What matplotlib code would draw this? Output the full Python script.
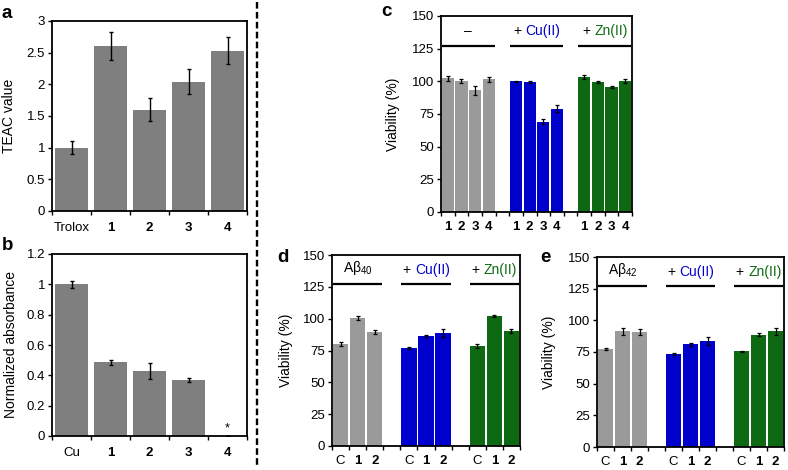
import numpy as np
import matplotlib.pyplot as plt
from matplotlib.lines import Line2D

plt.rcParams["font.family"] = ["Liberation Sans", "DejaVu Sans"]
plt.rcParams["font.size"] = 9
plt.rcParams["mathtext.fontset"] = "custom"
plt.rcParams["mathtext.rm"] = "Liberation Sans"
plt.rcParams["mathtext.it"] = "Liberation Sans:italic"

# panel a: TEAC values
teac_labels = ["Trolox", "1", "2", "3", "4"]
teac_vals = [1.0, 2.6, 1.6, 2.04, 2.53]
teac_err = [0.1, 0.22, 0.18, 0.2, 0.21]

# panel b: normalized absorbance
abs_labels = ["Cu", "1", "2", "3", "4"]
abs_vals = [1.0, 0.485, 0.43, 0.37, 0.0]
abs_err = [0.022, 0.015, 0.052, 0.013, 0.0]

# panel c: viability, compounds 1-4
c_labels = ["1", "2", "3", "4"]
c_none = [102.2, 100.2, 93.0, 101.5]
c_none_err = [1.8, 1.8, 3.2, 2.0]
c_cu = [100.0, 99.8, 69.0, 79.2]
c_cu_err = [0.5, 0.8, 2.0, 3.0]
c_zn = [103.5, 99.3, 95.8, 100.2]
c_zn_err = [1.5, 0.8, 1.0, 1.5]

# panel d: Abeta40
d_labels = ["C", "1", "2"]
d_ab = [80.0, 100.3, 89.8]
d_ab_err = [1.5, 1.5, 1.6]
d_cu = [77.0, 86.6, 88.5]
d_cu_err = [0.5, 0.8, 3.0]
d_zn = [78.5, 102.3, 90.3]
d_zn_err = [1.6, 0.6, 1.2]

# panel e: Abeta42
e_ab = [77.7, 91.3, 90.8]
e_ab_err = [0.8, 2.5, 2.5]
e_cu = [73.4, 81.0, 83.7]
e_cu_err = [0.5, 1.5, 3.5]
e_zn = [75.5, 88.5, 91.3]
e_zn_err = [0.5, 1.2, 3.0]

GRAY_DARK = "#7f7f7f"
GRAY = "#9a9a9a"
BLUE = "#0000cc"
GREEN = "#0e6a12"

W, H = 788, 470
fig = plt.figure(figsize=(W / 100, H / 100), dpi=100)


def add_axes(left, right, top, bottom):
    return fig.add_axes([left / W, 1 - bottom / H, (right - left) / W, (bottom - top) / H])


def style(ax, xpad):
    for s in ax.spines.values():
        s.set_linewidth(1.3)
    ax.tick_params(axis="y", direction="out", length=3, width=1, pad=2, labelsize=9.5)
    ax.tick_params(axis="x", which="minor", length=3, width=1)
    ax.tick_params(axis="x", which="major", length=0, pad=xpad)


def bold_labels(ax, labels):
    for t, lab in zip(ax.get_xticklabels(), labels):
        if lab.isdigit():
            t.set_fontweight("bold")


def simple_panel(ax, labels, vals, err, ylim, yticks, ylabel, labelpad):
    x = np.arange(len(labels))
    ax.bar(x, vals, width=0.85, color=GRAY_DARK)
    ax.errorbar(x, vals, yerr=err, fmt="none", ecolor="black", elinewidth=1, capsize=1.5, capthick=1)
    ax.set_xlim(-0.5, len(labels) - 0.5)
    ax.set_ylim(*ylim)
    ax.set_yticks(yticks)
    ax.set_yticklabels([f"{t:g}" for t in yticks])
    ax.set_xticks(x)
    ax.set_xticklabels(labels, fontsize=9.5)
    ax.set_xticks(np.arange(-0.5, len(labels)), minor=True)
    ax.set_ylabel(ylabel, fontsize=10, labelpad=labelpad)
    style(ax, 8)
    bold_labels(ax, labels)


def group_panel(ax, labels, groups, errs, first_label, labelpad):
    n = len(labels)
    colors = [GRAY, BLUE, GREEN]
    ticks, ticklabs = [], []
    for g, (vals, err, col) in enumerate(zip(groups, errs, colors)):
        x = np.arange(n) + g * (n + 1)
        ax.bar(x, vals, width=0.9, color=col)
        ax.errorbar(x, vals, yerr=err, fmt="none", ecolor="black", elinewidth=0.9, capsize=1.2, capthick=0.9)
        ticks += list(x)
        ticklabs += labels
        ax.plot([x[0] - 0.45, x[-1] + 0.45], [127, 127], color="black", lw=1.6, solid_capstyle="butt")
        xc = (x[0] + x[-1]) / 2
        if g == 0:
            ax.text(xc, 133, first_label, ha="center", va="bottom", fontsize=10)
        else:
            name = "Cu(II)" if g == 1 else "Zn(II)"
            full = ax.text(xc, 133, "+ " + name, ha="center", va="bottom", fontsize=10, alpha=0)
            plus = ax.annotate("+", xy=(0, 0), xycoords=full, ha="left", va="bottom", fontsize=10)
            ax.annotate(name, xy=(1, 0), xycoords=plus, xytext=(3, 0), textcoords="offset points",
                        ha="left", va="bottom", fontsize=10, color=col)
    total = 3 * n + 2
    ax.set_xlim(-0.5, total - 0.5)
    ax.set_ylim(0, 150)
    ax.set_yticks(np.arange(0, 151, 25))
    ax.set_xticks(ticks)
    ax.set_xticklabels(ticklabs, fontsize=9.5)
    ax.set_xticks(np.arange(-0.5, total), minor=True)
    ax.set_ylabel("Viability (%)", fontsize=10, labelpad=labelpad)
    style(ax, 6.5)
    bold_labels(ax, ticklabs)


# a
ax_a = add_axes(52, 247, 21, 211)
simple_panel(ax_a, teac_labels, teac_vals, teac_err, (0, 3), np.arange(0, 3.01, 0.5), "TEAC value", 7.5)

# b
ax_b = add_axes(52, 247, 254, 436)
simple_panel(ax_b, abs_labels, abs_vals, abs_err, (0, 1.2), np.round(np.arange(0, 1.21, 0.2), 1),
             "Normalized absorbance", 6)
ax_b.text(4, 0.012, "*", ha="center", va="bottom", fontsize=9)

# c
ax_c = add_axes(441, 632, 16, 212)
group_panel(ax_c, c_labels, [c_none, c_cu, c_zn], [c_none_err, c_cu_err, c_zn_err], "\u2013", 8.5)

# d
ax_d = add_axes(332, 520, 255, 446)
group_panel(ax_d, d_labels, [d_ab, d_cu, d_zn], [d_ab_err, d_cu_err, d_zn_err], "A\u03b2$_{40}$", 7)

# e
ax_e = add_axes(597, 784, 257, 447)
group_panel(ax_e, d_labels, [e_ab, e_cu, e_zn], [e_ab_err, e_cu_err, e_zn_err], "A\u03b2$_{42}$", 8.5)

# panel letters
for letter, px, py in [("a", 2, 14), ("b", 2, 245), ("c", 381, 12), ("d", 277, 257), ("e", 540, 258)]:
    fig.text(px / W, 1 - py / H, letter, fontsize=13.5, fontweight="bold", ha="left", va="center")

# dashed separator
fig.add_artist(Line2D([257 / W, 257 / W], [1 - 2 / H, 1 - 466 / H], color="black", lw=1.7,
                      linestyle=(0, (2.8, 1.4))))

fig.savefig("out.png", dpi=100)
